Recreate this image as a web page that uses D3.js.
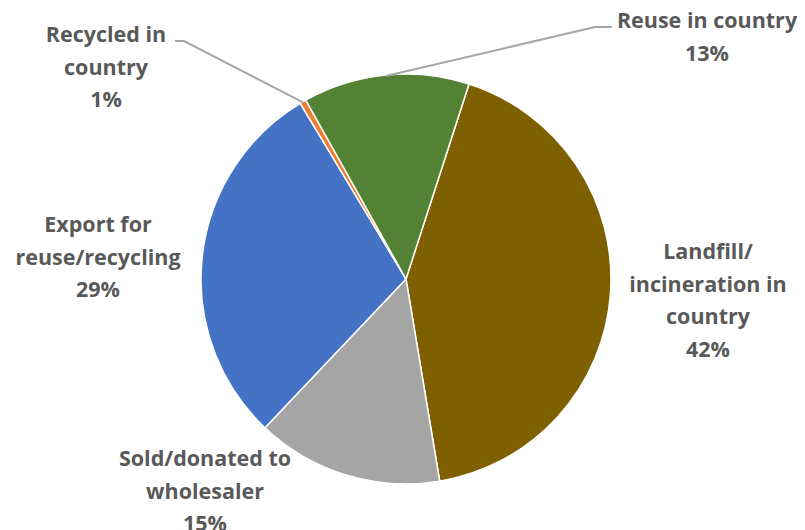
<!DOCTYPE html>
<html>
<head>
<meta charset="utf-8">
<script src="https://cdn.jsdelivr.net/npm/d3@7"></script>
<style>
  body { margin: 0; background: #fff; }
</style>
</head>
<body>
<div id="chart"></div>
<script>
// Data (order as drawn clockwise from the Landfill slice)
const categories = ["Landfill/ incineration in country", "Sold/donated to wholesaler", "Export for reuse/recycling", "Recycled in country", "Reuse in country"];
const values = [42.4, 14.7, 29.3, 0.5, 13.1];
const colors = ["#7F6000", "#A5A5A5", "#4472C4", "#ED7D31", "#548235"];

// Label line breaks
const labelLines = [
    ["Landfill/", "incineration in", "country"],
    ["Sold/donated to", "wholesaler"],
    ["Export for", "reuse/recycling"],
    ["Recycled in", "country"],
    ["Reuse in country"]
];
// label anchor (center x, first baseline y) and leader line start
const labelPos = [
    { x: 708, y: 259 },
    { x: 205, y: 466 },
    { x: 98, y: 232 },
    { x: 106, y: 42, leader: [[175, 41], [184, 41]] },
    { x: 707, y: 28, leader: [[612, 27], [595, 27]] }
];

const width = 805, height = 530;
const cx = 406, cy = 279, radius = 205;
const startDeg = 17.9;

const svg = d3.select("#chart")
    .append("svg")
    .attr("width", width)
    .attr("height", height);

const total = d3.sum(values);
const pie = d3.pie()
    .sort(null)
    .value(d => d)
    .startAngle(startDeg * Math.PI / 180)
    .endAngle(startDeg * Math.PI / 180 + 2 * Math.PI);

const arcs = pie(values);
const arc = d3.arc().innerRadius(0).outerRadius(radius);

const g = svg.append("g").attr("transform", `translate(${cx},${cy})`);

g.selectAll("path")
    .data(arcs)
    .enter()
    .append("path")
    .attr("d", arc)
    .attr("fill", (d, i) => colors[i])
    .attr("stroke", "#fff")
    .attr("stroke-width", 1.5);

// Leader lines
arcs.forEach((d, i) => {
    const p = labelPos[i];
    if (!p.leader) return;
    const mid = (d.startAngle + d.endAngle) / 2;
    const ex = cx + Math.sin(mid) * (radius - 1);
    const ey = cy - Math.cos(mid) * (radius - 1);
    const pts = p.leader.concat([[ex, ey]]);
    svg.append("path")
        .attr("d", d3.line()(pts))
        .attr("fill", "none")
        .attr("stroke", "#A6A6A6")
        .attr("stroke-width", 2);
});

// Labels
const lineH = 32.5;
arcs.forEach((d, i) => {
    const p = labelPos[i];
    const lines = labelLines[i].concat([Math.round(values[i] / total * 100) + "%"]);
    const t = svg.append("text")
        .attr("text-anchor", "middle")
        .attr("fill", "#595959")
        .style("font-family", "'Open Sans', sans-serif")
        .style("font-weight", "bold")
        .style("font-size", "21.5px");
    lines.forEach((ln, j) => {
        t.append("tspan")
            .attr("x", p.x)
            .attr("y", p.y + j * lineH)
            .text(ln);
    });
});
</script>
</body>
</html>
